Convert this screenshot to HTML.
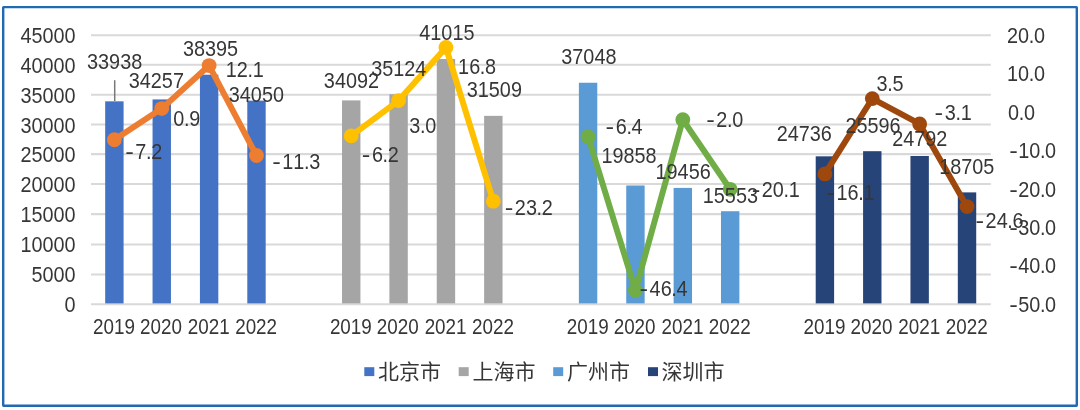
<!DOCTYPE html>
<html lang="zh-CN"><head><meta charset="utf-8"><title>chart</title>
<style>
html,body{margin:0;padding:0;background:#fff;}
svg{display:block;filter:blur(0.45px);}
text{font-family:"Liberation Sans", "Noto Sans CJK SC", sans-serif;fill:#363636;font-kerning:none;}
.n{font-size:21.3px;}
.lg{font-size:21px;font-weight:400;}
</style></head><body>
<svg width="1080" height="410" viewBox="0 0 1080 410">
<rect x="0" y="0" width="1080" height="410" fill="#fff"/>
<rect x="3.2" y="7.1" width="1073.6" height="398.6" rx="0.4" fill="#fff" stroke="#2169B3" stroke-width="2.4"/>
<line x1="91.0" y1="35.20" x2="990.8" y2="35.20" stroke="#D9D9D9" stroke-width="2.1"/>
<line x1="91.0" y1="64.80" x2="990.8" y2="64.80" stroke="#D9D9D9" stroke-width="2.1"/>
<line x1="91.0" y1="94.80" x2="990.8" y2="94.80" stroke="#D9D9D9" stroke-width="2.1"/>
<line x1="91.0" y1="124.50" x2="990.8" y2="124.50" stroke="#D9D9D9" stroke-width="2.1"/>
<line x1="91.0" y1="154.10" x2="990.8" y2="154.10" stroke="#D9D9D9" stroke-width="2.1"/>
<line x1="91.0" y1="184.00" x2="990.8" y2="184.00" stroke="#D9D9D9" stroke-width="2.1"/>
<line x1="91.0" y1="214.10" x2="990.8" y2="214.10" stroke="#D9D9D9" stroke-width="2.1"/>
<line x1="91.0" y1="244.50" x2="990.8" y2="244.50" stroke="#D9D9D9" stroke-width="2.1"/>
<line x1="91.0" y1="274.50" x2="990.8" y2="274.50" stroke="#D9D9D9" stroke-width="2.1"/>
<line x1="91.0" y1="304.20" x2="990.8" y2="304.20" stroke="#D9D9D9" stroke-width="2.1"/>
<rect x="105.18" y="101.33" width="18.40" height="202.07" fill="#4472C4"/>
<rect x="152.55" y="99.42" width="18.40" height="203.98" fill="#4472C4"/>
<rect x="199.92" y="74.68" width="18.40" height="228.72" fill="#4472C4"/>
<rect x="247.29" y="100.66" width="18.40" height="202.74" fill="#4472C4"/>
<rect x="342.03" y="100.41" width="18.40" height="202.99" fill="#A5A5A5"/>
<rect x="389.39" y="94.24" width="18.40" height="209.16" fill="#A5A5A5"/>
<rect x="436.76" y="59.02" width="18.40" height="244.38" fill="#A5A5A5"/>
<rect x="484.13" y="115.85" width="18.40" height="187.55" fill="#A5A5A5"/>
<rect x="578.87" y="82.74" width="18.40" height="220.66" fill="#5B9BD5"/>
<rect x="626.24" y="185.49" width="18.40" height="117.91" fill="#5B9BD5"/>
<rect x="673.61" y="187.90" width="18.40" height="115.50" fill="#5B9BD5"/>
<rect x="720.97" y="211.23" width="18.40" height="92.17" fill="#5B9BD5"/>
<rect x="815.71" y="156.33" width="18.40" height="147.07" fill="#264478"/>
<rect x="863.08" y="151.19" width="18.40" height="152.21" fill="#264478"/>
<rect x="910.45" y="156.00" width="18.40" height="147.40" fill="#264478"/>
<rect x="957.82" y="192.39" width="18.40" height="111.01" fill="#264478"/>
<line x1="114.7" y1="80.2" x2="114.7" y2="101" stroke="#787878" stroke-width="1.5"/>
<polyline points="114.38,139.73 161.75,108.60 209.12,65.56 256.49,155.48" fill="none" stroke="#ED7D31" stroke-width="6" stroke-linejoin="round" stroke-linecap="round"/>
<circle cx="114.38" cy="139.73" r="7.4" fill="#ED7D31"/>
<circle cx="161.75" cy="108.60" r="7.4" fill="#ED7D31"/>
<circle cx="209.12" cy="65.56" r="7.4" fill="#ED7D31"/>
<circle cx="256.49" cy="155.48" r="7.4" fill="#ED7D31"/>
<polyline points="351.23,135.88 398.59,100.53 445.96,47.50 493.33,201.21" fill="none" stroke="#FFC000" stroke-width="6" stroke-linejoin="round" stroke-linecap="round"/>
<circle cx="351.23" cy="135.88" r="7.4" fill="#FFC000"/>
<circle cx="398.59" cy="100.53" r="7.4" fill="#FFC000"/>
<circle cx="445.96" cy="47.50" r="7.4" fill="#FFC000"/>
<circle cx="493.33" cy="201.21" r="7.4" fill="#FFC000"/>
<polyline points="588.07,136.65 635.44,290.37 682.81,119.74 730.17,189.30" fill="none" stroke="#70AD47" stroke-width="6" stroke-linejoin="round" stroke-linecap="round"/>
<circle cx="588.07" cy="136.65" r="7.4" fill="#70AD47"/>
<circle cx="635.44" cy="290.37" r="7.4" fill="#70AD47"/>
<circle cx="682.81" cy="119.74" r="7.4" fill="#70AD47"/>
<circle cx="730.17" cy="189.30" r="7.4" fill="#70AD47"/>
<polyline points="824.91,173.93 872.28,98.61 919.65,123.97 967.02,206.59" fill="none" stroke="#9E480E" stroke-width="6" stroke-linejoin="round" stroke-linecap="round"/>
<circle cx="824.91" cy="173.93" r="7.4" fill="#9E480E"/>
<circle cx="872.28" cy="98.61" r="7.4" fill="#9E480E"/>
<circle cx="919.65" cy="123.97" r="7.4" fill="#9E480E"/>
<circle cx="967.02" cy="206.59" r="7.4" fill="#9E480E"/>
<text class="n" transform="translate(64.62,311.90) scale(0.9320,1)">0</text>
<text class="n" transform="translate(31.50,282.01) scale(0.9320,1)">5000</text>
<text class="n" transform="translate(20.46,252.12) scale(0.9320,1)">10000</text>
<text class="n" transform="translate(20.46,222.23) scale(0.9320,1)">15000</text>
<text class="n" transform="translate(20.46,192.34) scale(0.9320,1)">20000</text>
<text class="n" transform="translate(20.46,162.46) scale(0.9320,1)">25000</text>
<text class="n" transform="translate(20.46,132.57) scale(0.9320,1)">30000</text>
<text class="n" transform="translate(20.46,102.68) scale(0.9320,1)">35000</text>
<text class="n" transform="translate(20.46,72.79) scale(0.9320,1)">40000</text>
<text class="n" transform="translate(20.46,42.90) scale(0.9320,1)">45000</text>
<text class="n" transform="translate(1007.07,42.90) scale(0.9320,1)"><tspan x="0.00">20</tspan><tspan x="23.34">.</tspan><tspan x="28.91">0</tspan></text>
<text class="n" transform="translate(1007.07,81.33) scale(0.9320,1)"><tspan x="0.00">10</tspan><tspan x="23.34">.</tspan><tspan x="28.91">0</tspan></text>
<text class="n" transform="translate(1008.00,119.76) scale(0.9320,1)"><tspan x="0.00">0</tspan><tspan x="11.49">.</tspan><tspan x="17.06">0</tspan></text>
<text class="n" transform="translate(1009.20,158.19) scale(0.9320,1)"><tspan x="0.00" textLength="9.22" lengthAdjust="spacingAndGlyphs">-</tspan><tspan x="9.59">10</tspan><tspan x="32.93">.</tspan><tspan x="38.50">0</tspan></text>
<text class="n" transform="translate(1009.20,196.61) scale(0.9320,1)"><tspan x="0.00" textLength="9.22" lengthAdjust="spacingAndGlyphs">-</tspan><tspan x="9.59">20</tspan><tspan x="32.93">.</tspan><tspan x="38.50">0</tspan></text>
<text class="n" transform="translate(1009.20,235.04) scale(0.9320,1)"><tspan x="0.00" textLength="9.22" lengthAdjust="spacingAndGlyphs">-</tspan><tspan x="9.59">30</tspan><tspan x="32.93">.</tspan><tspan x="38.50">0</tspan></text>
<text class="n" transform="translate(1009.20,273.47) scale(0.9320,1)"><tspan x="0.00" textLength="9.22" lengthAdjust="spacingAndGlyphs">-</tspan><tspan x="9.59">40</tspan><tspan x="32.93">.</tspan><tspan x="38.50">0</tspan></text>
<text class="n" transform="translate(1009.20,311.90) scale(0.9320,1)"><tspan x="0.00" textLength="9.22" lengthAdjust="spacingAndGlyphs">-</tspan><tspan x="9.59">50</tspan><tspan x="32.93">.</tspan><tspan x="38.50">0</tspan></text>
<text class="n" transform="translate(93.05,333.70) scale(0.8850,1)">2019</text>
<text class="n" transform="translate(139.98,333.70) scale(0.8850,1)">2020</text>
<text class="n" transform="translate(187.79,333.70) scale(0.8850,1)">2021</text>
<text class="n" transform="translate(235.16,333.70) scale(0.8850,1)">2022</text>
<text class="n" transform="translate(329.89,333.70) scale(0.8850,1)">2019</text>
<text class="n" transform="translate(376.82,333.70) scale(0.8850,1)">2020</text>
<text class="n" transform="translate(424.63,333.70) scale(0.8850,1)">2021</text>
<text class="n" transform="translate(472.00,333.70) scale(0.8850,1)">2022</text>
<text class="n" transform="translate(566.74,333.70) scale(0.8850,1)">2019</text>
<text class="n" transform="translate(613.66,333.70) scale(0.8850,1)">2020</text>
<text class="n" transform="translate(661.47,333.70) scale(0.8850,1)">2021</text>
<text class="n" transform="translate(708.84,333.70) scale(0.8850,1)">2022</text>
<text class="n" transform="translate(803.58,333.70) scale(0.8850,1)">2019</text>
<text class="n" transform="translate(850.50,333.70) scale(0.8850,1)">2020</text>
<text class="n" transform="translate(898.31,333.70) scale(0.8850,1)">2021</text>
<text class="n" transform="translate(945.68,333.70) scale(0.8850,1)">2022</text>
<text class="n" transform="translate(87.05,68.50) scale(0.9320,1)">33938</text>
<text class="n" transform="translate(128.75,87.50) scale(0.9320,1)">34257</text>
<text class="n" transform="translate(182.90,56.30) scale(0.9320,1)">38395</text>
<text class="n" transform="translate(228.78,101.50) scale(0.9320,1)">34050</text>
<text class="n" transform="translate(125.15,159.30) scale(0.9320,1)"><tspan x="0.00" textLength="9.22" lengthAdjust="spacingAndGlyphs">-</tspan><tspan x="10.89">7</tspan><tspan x="22.39">.</tspan><tspan x="27.95">2</tspan></text>
<text class="n" transform="translate(173.32,126.30) scale(0.9320,1)"><tspan x="0.00">0</tspan><tspan x="11.49">.</tspan><tspan x="17.06">9</tspan></text>
<text class="n" transform="translate(225.74,77.40) scale(0.9320,1)"><tspan x="0.00">12</tspan><tspan x="23.34">.</tspan><tspan x="28.91">1</tspan></text>
<text class="n" transform="translate(272.18,168.60) scale(0.9320,1)"><tspan x="0.00" textLength="9.22" lengthAdjust="spacingAndGlyphs">-</tspan><tspan x="10.89">11</tspan><tspan x="34.23">.</tspan><tspan x="39.80">3</tspan></text>
<text class="n" transform="translate(323.85,88.40) scale(0.9320,1)">34092</text>
<text class="n" transform="translate(371.13,75.50) scale(0.9320,1)">35124</text>
<text class="n" transform="translate(419.30,40.20) scale(0.9320,1)">41015</text>
<text class="n" transform="translate(466.75,97.30) scale(0.9320,1)">31509</text>
<text class="n" transform="translate(361.75,161.90) scale(0.9320,1)"><tspan x="0.00" textLength="9.22" lengthAdjust="spacingAndGlyphs">-</tspan><tspan x="10.89">6</tspan><tspan x="22.39">.</tspan><tspan x="27.95">2</tspan></text>
<text class="n" transform="translate(409.26,132.70) scale(0.9320,1)"><tspan x="0.00">3</tspan><tspan x="11.49">.</tspan><tspan x="17.06">0</tspan></text>
<text class="n" transform="translate(458.11,73.80) scale(0.9320,1)"><tspan x="0.00">16</tspan><tspan x="23.34">.</tspan><tspan x="28.91">8</tspan></text>
<text class="n" transform="translate(504.73,214.50) scale(0.9320,1)"><tspan x="0.00" textLength="9.22" lengthAdjust="spacingAndGlyphs">-</tspan><tspan x="10.89">23</tspan><tspan x="34.23">.</tspan><tspan x="39.80">2</tspan></text>
<text class="n" transform="translate(561.30,64.10) scale(0.9320,1)">37048</text>
<text class="n" transform="translate(601.38,163.10) scale(0.9320,1)">19858</text>
<text class="n" transform="translate(655.53,179.40) scale(0.9320,1)">19456</text>
<text class="n" transform="translate(702.78,203.30) scale(0.9320,1)">15553</text>
<text class="n" transform="translate(605.53,134.10) scale(0.9320,1)"><tspan x="0.00" textLength="9.22" lengthAdjust="spacingAndGlyphs">-</tspan><tspan x="10.89">6</tspan><tspan x="22.39">.</tspan><tspan x="27.95">4</tspan></text>
<text class="n" transform="translate(639.46,296.10) scale(0.9320,1)"><tspan x="0.00" textLength="9.22" lengthAdjust="spacingAndGlyphs">-</tspan><tspan x="10.89">46</tspan><tspan x="34.23">.</tspan><tspan x="39.80">4</tspan></text>
<text class="n" transform="translate(706.18,126.50) scale(0.9320,1)"><tspan x="0.00" textLength="9.22" lengthAdjust="spacingAndGlyphs">-</tspan><tspan x="10.89">2</tspan><tspan x="22.39">.</tspan><tspan x="27.95">0</tspan></text>
<text class="n" transform="translate(751.68,196.80) scale(0.9320,1)"><tspan x="0.00" textLength="9.22" lengthAdjust="spacingAndGlyphs">-</tspan><tspan x="10.89">20</tspan><tspan x="34.23">.</tspan><tspan x="39.80">1</tspan></text>
<text class="n" transform="translate(776.63,140.50) scale(0.9320,1)">24736</text>
<text class="n" transform="translate(845.38,133.40) scale(0.9320,1)">25596</text>
<text class="n" transform="translate(892.13,146.30) scale(0.9320,1)">24792</text>
<text class="n" transform="translate(939.23,173.70) scale(0.9320,1)">18705</text>
<text class="n" transform="translate(826.43,200.00) scale(0.9320,1)"><tspan x="0.00" textLength="9.22" lengthAdjust="spacingAndGlyphs">-</tspan><tspan x="10.89">16</tspan><tspan x="34.23">.</tspan><tspan x="39.80">1</tspan></text>
<text class="n" transform="translate(876.52,90.70) scale(0.9320,1)"><tspan x="0.00">3</tspan><tspan x="11.49">.</tspan><tspan x="17.06">5</tspan></text>
<text class="n" transform="translate(934.60,119.70) scale(0.9320,1)"><tspan x="0.00" textLength="9.22" lengthAdjust="spacingAndGlyphs">-</tspan><tspan x="10.89">3</tspan><tspan x="22.39">.</tspan><tspan x="27.95">1</tspan></text>
<text class="n" transform="translate(975.48,227.60) scale(0.9320,1)"><tspan x="0.00" textLength="9.22" lengthAdjust="spacingAndGlyphs">-</tspan><tspan x="10.89">24</tspan><tspan x="34.23">.</tspan><tspan x="39.80">6</tspan></text>
<rect x="364.3" y="367.2" width="10" height="8.9" fill="#4472C4"/>
<text class="lg" x="378.0" y="379">北京市</text>
<rect x="458.7" y="367.2" width="10" height="8.9" fill="#A5A5A5"/>
<text class="lg" x="472.6" y="379">上海市</text>
<rect x="553.2" y="367.2" width="10" height="8.9" fill="#5B9BD5"/>
<text class="lg" x="567.1" y="379">广州市</text>
<rect x="648.0" y="367.2" width="10" height="8.9" fill="#264478"/>
<text class="lg" x="661.6" y="379">深圳市</text>
</svg>
</body></html>
